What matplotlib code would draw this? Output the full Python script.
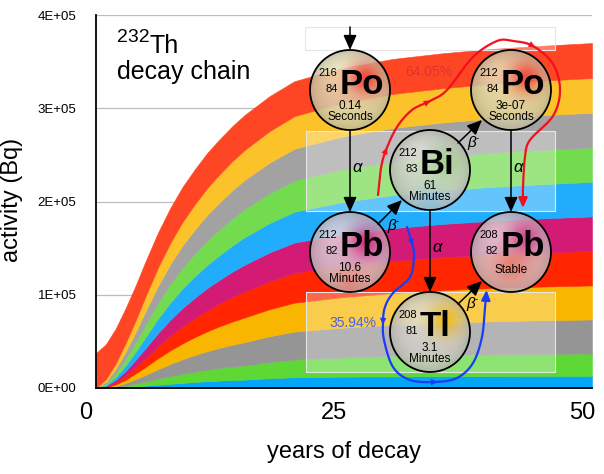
import numpy as np
import matplotlib
matplotlib.use("Agg")
import matplotlib.pyplot as plt
from matplotlib.patches import Circle, Rectangle
from matplotlib.colors import to_rgb
from matplotlib.transforms import ScaledTranslation

plt.rcParams['font.family'] = ['Liberation Sans', 'DejaVu Sans']

# years of decay
years = [0, 1, 2, 3, 4, 5, 6.25, 7.5, 8.75, 10, 11.25, 12.5, 13.75, 15, 17.5, 20, 22.5, 25, 30, 35, 40, 45, 50]

# activity of each member of the chain, in units of 1E+05 Bq
th232 = [0.375, 0.375, 0.375, 0.375, 0.375, 0.375, 0.375, 0.375, 0.375, 0.375, 0.375, 0.375,
         0.375, 0.375, 0.375, 0.375, 0.375, 0.375, 0.375, 0.375, 0.375, 0.375, 0.375]
ra228 = [0, .028, .058, .092, .125, .160, .197, .228, .253, .272, .289, .302,
         .313, .322, .338, .350, .356, .360, .365, .368, .370, .371, .372]
ac228 = [0, .020, .047, .079, .110, .146, .182, .213, .238, .258, .276, .290,
         .302, .312, .328, .340, .347, .352, .360, .3645, .368, .3705, .372]
th228 = [0, .015, .040, .069, .100, .132, .168, .199, .224, .244, .262, .276,
         .290, .302, .320, .335, .343, .350, .360, .363, .366, .368, .370]
ra224 = [0, .011, .033, .060, .087, .119, .155, .185, .210, .230, .249, .265,
         .281, .295, .315, .330, .338, .345, .355, .360, .364, .367, .370]
rn220 = [0, .008, .027, .051, .078, .106, .141, .171, .197, .218, .238, .255,
         .272, .287, .308, .325, .3325, .340, .350, .357, .362, .366, .370]
po216 = [0, .006, .022, .044, .069, .096, .129, .158, .184, .206, .227, .245,
         .263, .279, .301, .320, .328, .336, .346, .354, .360, .365, .370]
pb212 = [0, .004, .017, .037, .060, .085, .117, .146, .171, .193, .2135, .232,
         .249, .265, .290, .310, .319, .328, .340, .350, .357, .3615, .365]
bi212 = [0, .002, .012, .030, .050, .072, .103, .131, .157, .180, .200, .217,
         .234, .250, .278, .300, .310, .320, .334, .346, .355, .361, .365]
po212 = [0, .001, .006, .016, .030, .044, .064, .082, .097, .110, .123, .135,
         .1445, .152, .172, .190, .198, .206, .220, .2265, .232, .2365, .240]
tl208 = [0, .000, .003, .007, .016, .025, .035, .045, .055, .065, .073, .080,
         .0855, .090, .105, .115, .119, .122, .125, .1265, .128, .129, .130]

# stacked from the bottom up
couches = [tl208, po212, bi212, pb212, po216, rn220, ra224, th228, ac228, ra228, th232]
couleurs = ['#04A6F8', '#5DD834', '#959595', '#F8B600', '#FF2600', '#D31B76',
            '#22ADFC', '#73DB4E', '#A2A2A2', '#FBC22A', '#FF4624']

y_ticks = [0, 1e5, 2e5, 3e5, 4e5]
y_labels = ['0E+00', '1E+05', '2E+05', '3E+05', '4E+05']
x_ticks = [0, 25, 50]
x_labels = ['0', '25', '50']

W, H = 604, 474
fig = plt.figure(figsize=(W / 100, H / 100), dpi=100)
ax = fig.add_axes([96 / W, 86 / H, 496 / W, 373 / H])

polys = ax.stackplot(years, *[np.array(c) * 1e5 for c in couches], colors=couleurs, linewidth=0)
for p, c in zip(polys, couleurs):
    p.set_edgecolor(c)
    p.set_linewidth(0.4)

ax.set_xlim(0, 50)
ax.set_ylim(0, 4e5)
ax.set_axisbelow(True)
ax.grid(axis='y', color='#BDBDBD', lw=0.9)
ax.set_yticks(y_ticks)
ax.set_yticklabels(y_labels, fontsize=9.5)
ax.set_xticks(x_ticks)
ax.set_xticklabels(x_labels, fontsize=17)
ax.tick_params(axis='y', length=0, pad=14)
ax.tick_params(axis='x', length=0, pad=10)
decal = ScaledTranslation(-10 / 100, 0, fig.dpi_scale_trans)
for lab in ax.get_xticklabels():
    lab.set_transform(lab.get_transform() + decal)
for s in ['top', 'right']:
    ax.spines[s].set_visible(False)
for s in ['left', 'bottom']:
    ax.spines[s].set_color('black')
    ax.spines[s].set_linewidth(1.3)

fig.text(12 / W, 1 - 200 / H, 'activity (Bq)', rotation=90, ha='center', va='center', fontsize=17)
fig.text(344 / W, 1 - 452 / H, 'years of decay', ha='center', va='center', fontsize=17)

# overlay in pixel coordinates for the decay chain diagram
ov = fig.add_axes([0, 0, 1, 1])
ov.axis('off')


def lisse(pts, n=10):
    pts = np.asarray(pts, float)
    p = np.vstack([pts[0], pts, pts[-1]])
    out = []
    for i in range(1, len(p) - 2):
        p0, p1, p2, p3 = p[i - 1], p[i], p[i + 1], p[i + 2]
        for s in np.linspace(0, 1, n, endpoint=False):
            out.append(0.5 * (2 * p1 + (-p0 + p2) * s + (2 * p0 - 5 * p1 + 4 * p2 - p3) * s * s
                              + (-p0 + 3 * p1 - 3 * p2 + p3) * s ** 3))
    out.append(pts[-1])
    return np.array(out)


def fleche(a, b, couleur='black', lw=1.1, taille=20, z=4):
    ov.annotate('', xy=b, xytext=a,
                arrowprops=dict(arrowstyle='-|>,head_length=0.45,head_width=0.2', color=couleur,
                                lw=lw, shrinkA=0, shrinkB=0, mutation_scale=taille), zorder=z)


def chemin(pts, couleur, marques, fin):
    c = lisse(pts)
    ov.plot(c[:, 0], c[:, 1], color=couleur, lw=1.6, zorder=6, solid_capstyle='round')
    for m in marques:
        i = np.argmin(np.hypot(c[:, 0] - m[0], c[:, 1] - m[1]))
        i = min(max(i, 1), len(c) - 2)
        d = c[i + 1] - c[i - 1]
        d = d / np.hypot(*d)
        fleche(c[i] - 3 * d, c[i] + 3 * d, couleur, lw=0.1, taille=11, z=6)
    d = fin - c[-1]
    fleche(c[-1] - d * 0.01, fin, couleur, lw=1.6, taille=13, z=6)


def bulle(cx, cy, teinte, glows, r=40):
    n = 160
    g = np.linspace(-1, 1, n)
    X, Y = np.meshgrid(g, g)
    R = np.hypot(X, Y)
    lum = 1.0 - 0.15 * R ** 4 + 0.08 * np.exp(-((X + 0.3) ** 2 + (Y + 0.45) ** 2) / 0.2)
    rgb = lum[..., None] * np.array(to_rgb(teinte))
    for gx, gy, col, w, s in glows:
        k = (w * np.exp(-((X - gx) ** 2 + (Y - gy) ** 2) / (2 * s ** 2)))[..., None]
        rgb = rgb * (1 - k) + np.array(to_rgb(col)) * k
    alpha = np.where(R <= 1.0, 0.85, 0.0)
    img = ov.imshow(np.dstack([np.clip(rgb, 0, 1), alpha]), extent=(cx - r, cx + r, cy + r, cy - r),
                    aspect='auto', zorder=3, interpolation='bilinear')
    circ = Circle((cx, cy), r, fc='none', ec='black', lw=1.3, zorder=3.5)
    ov.add_patch(circ)
    img.set_clip_path(circ)


def noyau(cx, cy, masse, z, symbole, vie, unite=None):
    ov.text(cx - 12.5, cy - 14, masse, ha='right', va='baseline', fontsize=8, zorder=5)
    ov.text(cx - 12.5, cy + 2, z, ha='right', va='baseline', fontsize=8, zorder=5)
    ov.text(cx - 10.5, cy + 4, symbole, ha='left', va='baseline', fontsize=25, fontweight='bold', zorder=5)
    if unite:
        ov.text(cx, cy + 16, vie, ha='center', va='center', fontsize=8.5, zorder=5)
        ov.text(cx, cy + 27, unite, ha='center', va='center', fontsize=8.5, zorder=5)
    else:
        ov.text(cx, cy + 18, vie, ha='center', va='center', fontsize=8.5, zorder=5)


def beta(x, y):
    ov.text(x, y, '\u03b2', ha='center', va='center', fontsize=11, style='italic', zorder=5)
    ov.text(x + 5, y - 5, '-', ha='center', va='center', fontsize=7, zorder=5)


# light boxes behind the diagram
for (x0, y0, w, h) in [(305, 27, 250, 23), (306, 131, 249, 80), (306, 292, 249, 80)]:
    ov.add_patch(Rectangle((x0, y0), w, h, fc='white', alpha=0.3, ec='none', zorder=1))
    ov.add_patch(Rectangle((x0, y0), w, h, fc='none', ec='#E6E6E6', lw=0.8, zorder=1))

# title
ov.text(117, 42, '232', fontsize=14, va='baseline', ha='left')
ov.text(149.5, 53, 'Th', fontsize=18, va='baseline', ha='left')
ov.text(117, 79, 'decay chain', fontsize=18, va='baseline', ha='left')

# black decay arrows
fleche((350, 27), (350, 50))
fleche((350, 130), (350, 212))
fleche((378, 224), (402, 200))
fleche((458, 143), (482, 120))
fleche((430, 210), (430, 292))
fleche((511, 130), (511, 212))
fleche((458, 304), (482, 281))
for x, y in [(357, 167), (437, 247), (518, 167)]:
    ov.text(x, y, '\u03b1', ha='center', va='center', fontsize=12, style='italic', zorder=5)
beta(392, 226)
beta(472, 143)
beta(471, 304)

# nuclei
bulle(350, 90, '#DCD6B2', [(0.38, -0.3, '#EE3B32', 0.85, 0.28)])
bulle(511, 90, '#DCD6B2', [(0.38, -0.3, '#EE3B32', 0.85, 0.28)])
bulle(430, 170, '#D2D2CC', [(0.35, -0.2, '#7FD060', 0.5, 0.3), (0.0, 0.75, '#55B8F0', 0.35, 0.25)])
bulle(350, 252, '#D8CCD2', [(0.4, -0.25, '#D02A80', 0.85, 0.3), (0.0, 0.75, '#F05030', 0.3, 0.25)])
bulle(511, 252, '#D8CCD0', [(0.35, -0.35, '#D02A80', 0.7, 0.3), (0.0, 0.35, '#F06048', 0.5, 0.3)])
bulle(430, 332, '#D2D0C8', [(0.4, -0.3, '#F5B800', 0.85, 0.28)])

noyau(350, 90, '216', '84', 'Po', '0.14', 'Seconds')
noyau(511, 90, '212', '84', 'Po', '3e-07', 'Seconds')
noyau(430, 170, '212', '83', 'Bi', '61', 'Minutes')
noyau(350, 252, '212', '82', 'Pb', '10.6', 'Minutes')
noyau(511, 252, '208', '82', 'Pb', 'Stable')
noyau(430, 332, '208', '81', 'Tl', '3.1', 'Minutes')

# branching paths
rouge = [(378, 195), (381, 168), (386, 150), (397, 127), (412, 110), (430, 101), (447, 90),
         (473, 57), (497, 41), (513, 41), (533, 46), (553, 64), (560, 90), (553, 116),
         (530, 140), (525, 157), (523, 187), (523, 200)]
chemin(rouge, '#F0101E', [(386, 151), (429, 102), (533, 46)], np.array([523, 208]))
ov.text(429, 72, '64.05%', color='#D9322B', alpha=0.85, fontsize=10, ha='center', va='center', zorder=6)

bleu = [(407, 227), (412, 243), (414, 256), (410, 277), (393, 293), (385, 307), (383, 322),
        (384, 340), (393, 367), (410, 380), (435, 382), (457, 378), (473, 363), (482, 337),
        (485, 307), (486, 298)]
chemin(bleu, '#1A3CF5', [(412, 243), (383, 322), (435, 382)], np.array([486.5, 290]))
ov.text(353, 323, '35.94%', color='#2E55FF', alpha=0.9, fontsize=10, ha='center', va='center', zorder=6)

ov.set_xlim(0, W)
ov.set_ylim(H, 0)

fig.savefig('out.png', dpi=100)
